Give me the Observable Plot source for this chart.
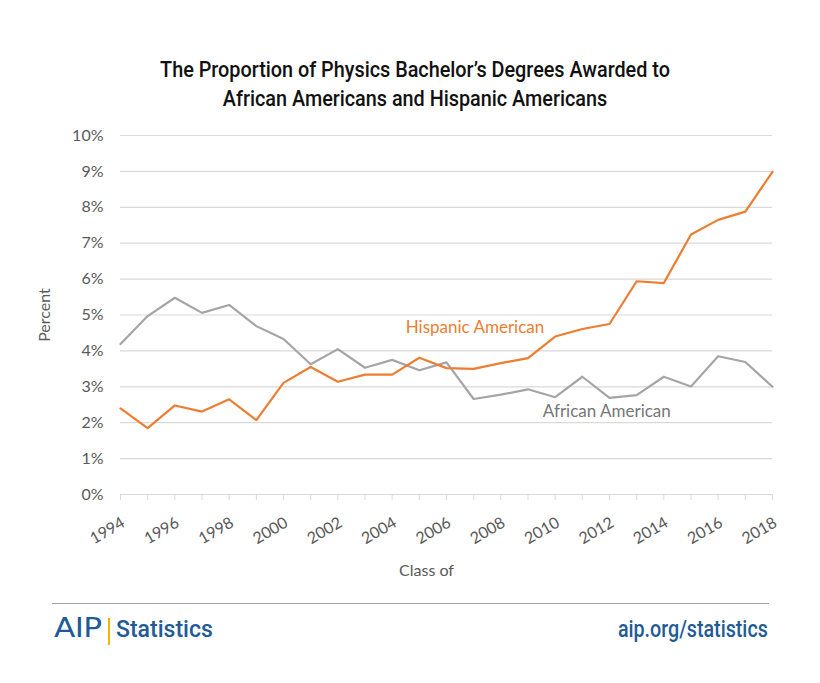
<!DOCTYPE html>
<html>
<head>
<meta charset="utf-8">
<script src="https://cdn.jsdelivr.net/npm/d3@7"></script>
<script src="https://cdn.jsdelivr.net/npm/@observablehq/plot@0.6"></script>
<style>
  html, body { margin: 0; padding: 0; background: #fff; }
  #wrap { position: relative; width: 820px; height: 683px; overflow: hidden; background: #fff; }
  #title { position: absolute; left: 0; top: 55px; width: 830px; text-align: center;
    font-family: Roboto, "Liberation Sans", sans-serif; font-weight: 500;
    font-size: 22px; line-height: 29px; color: #111; transform: scaleX(0.9); transform-origin: 415px 0; }
  #chart { position: absolute; left: 0; top: 120px; }
  #rule { position: absolute; left: 52px; top: 603px; width: 717px; height: 0; border-top: 1.5px solid #a6a6a6; }
  #aip { position: absolute; left: 54px; top: 613px; font-family: "DejaVu Sans", sans-serif; font-size: 26px; color: #1f5b96; transform: scaleX(1.2); transform-origin: 0 0; letter-spacing: -0.5px; }
  #bar { position: absolute; left: 108px; top: 618px; width: 2px; height: 27px; background: #f4b400; }
  #stat { position: absolute; left: 116px; top: 615px; font-family: Roboto, sans-serif; font-weight: 500; font-size: 24px; color: #1f5b96; transform: scaleX(0.96); transform-origin: 0 0; }
  #url { position: absolute; right: 52px; top: 615px; font-family: Roboto, sans-serif; font-weight: 500; font-size: 24px; color: #1f5b96; transform: scaleX(0.82); transform-origin: 100% 0; }
</style>
</head>
<body>
<div id="wrap">
  <div id="title">The Proportion of Physics Bachelor’s Degrees Awarded to<br>African Americans and Hispanic Americans</div>
  <div id="chart"></div>
  <div id="rule"></div>
  <div id="aip">AIP</div>
  <div id="bar"></div>
  <div id="stat">Statistics</div>
  <div id="url">aip.org/statistics</div>
</div>
<script>
const years = d3.range(1994, 2019);
const labelYears = d3.range(1994, 2019, 2);
const yTicks = d3.range(0, 11);
const hispanic = [2.40, 1.85, 2.48, 2.31, 2.65, 2.07, 3.11, 3.55, 3.14, 3.34, 3.34, 3.81, 3.52,
  3.50, 3.66, 3.80, 4.40, 4.61, 4.75, 5.94, 5.89, 7.24, 7.65, 7.88, 8.99];
const african = [4.19, 4.97, 5.48, 5.06, 5.28, 4.69, 4.33, 3.63, 4.05, 3.53, 3.75, 3.46, 3.68,
  2.66, 2.78, 2.93, 2.71, 3.28, 2.69, 2.77, 3.28, 3.01, 3.85, 3.69, 3.00];
const hispLabel = [{name: "Hispanic American", year: 2004.5, value: 4.64}];
const afrLabel = [{name: "African American", year: 2011.9, value: 2.31}];

const hisp = years.map((y, i) => ({year: y, value: hispanic[i]}));
const afr = years.map((y, i) => ({year: y, value: african[i]}));
const font = "Lato, 'Open Sans', sans-serif";

const chart = Plot.plot({
  width: 820,
  height: 470,
  marginLeft: 120,
  marginRight: 48,
  marginTop: 15,
  marginBottom: 96,
  style: {fontFamily: font, background: "#fff"},
  x: {domain: [1994, 2018]},
  y: {domain: [0, 10]},
  marks: [
    Plot.gridY(yTicks.slice(1), {stroke: "#d9d9d9", strokeOpacity: 1, strokeWidth: 1.2}),
    Plot.ruleY([0], {stroke: "#d9d9d9", strokeWidth: 1.2}),
    Plot.axisX(years, {tickSize: 6, tickFormat: () => "", stroke: "#d9d9d9", label: null}),
    Plot.axisX(labelYears, {tickSize: 0, tickRotate: -30, tickPadding: 27, dx: 3, tickFormat: d => String(d),
      fontSize: 16, fill: "#595959", label: null}),
    Plot.axisY(yTicks, {tickSize: 0, tickPadding: 17, tickFormat: d => d + "%", fontSize: 16,
      fill: "#595959", label: "Percent", labelAnchor: "center", labelArrow: "none", labelOffset: 82}),
    Plot.text(["Class of"], {frameAnchor: "bottom", dx: -20, dy: 81, fontSize: 16, fill: "#595959"}),
    Plot.lineY(afr, {x: "year", y: "value", stroke: "#a5a5a5", strokeWidth: 2.2}),
    Plot.lineY(hisp, {x: "year", y: "value", stroke: "#ed7d31", strokeWidth: 2.2}),
    Plot.text(hispLabel, {x: "year", y: "value", text: "name", fill: "#ed7d31", fontSize: 17, textAnchor: "start"}),
    Plot.text(afrLabel, {x: "year", y: "value", text: "name", fill: "#767676", fontSize: 17})
  ]
});
document.getElementById("chart").appendChild(chart);
</script>
</body>
</html>
